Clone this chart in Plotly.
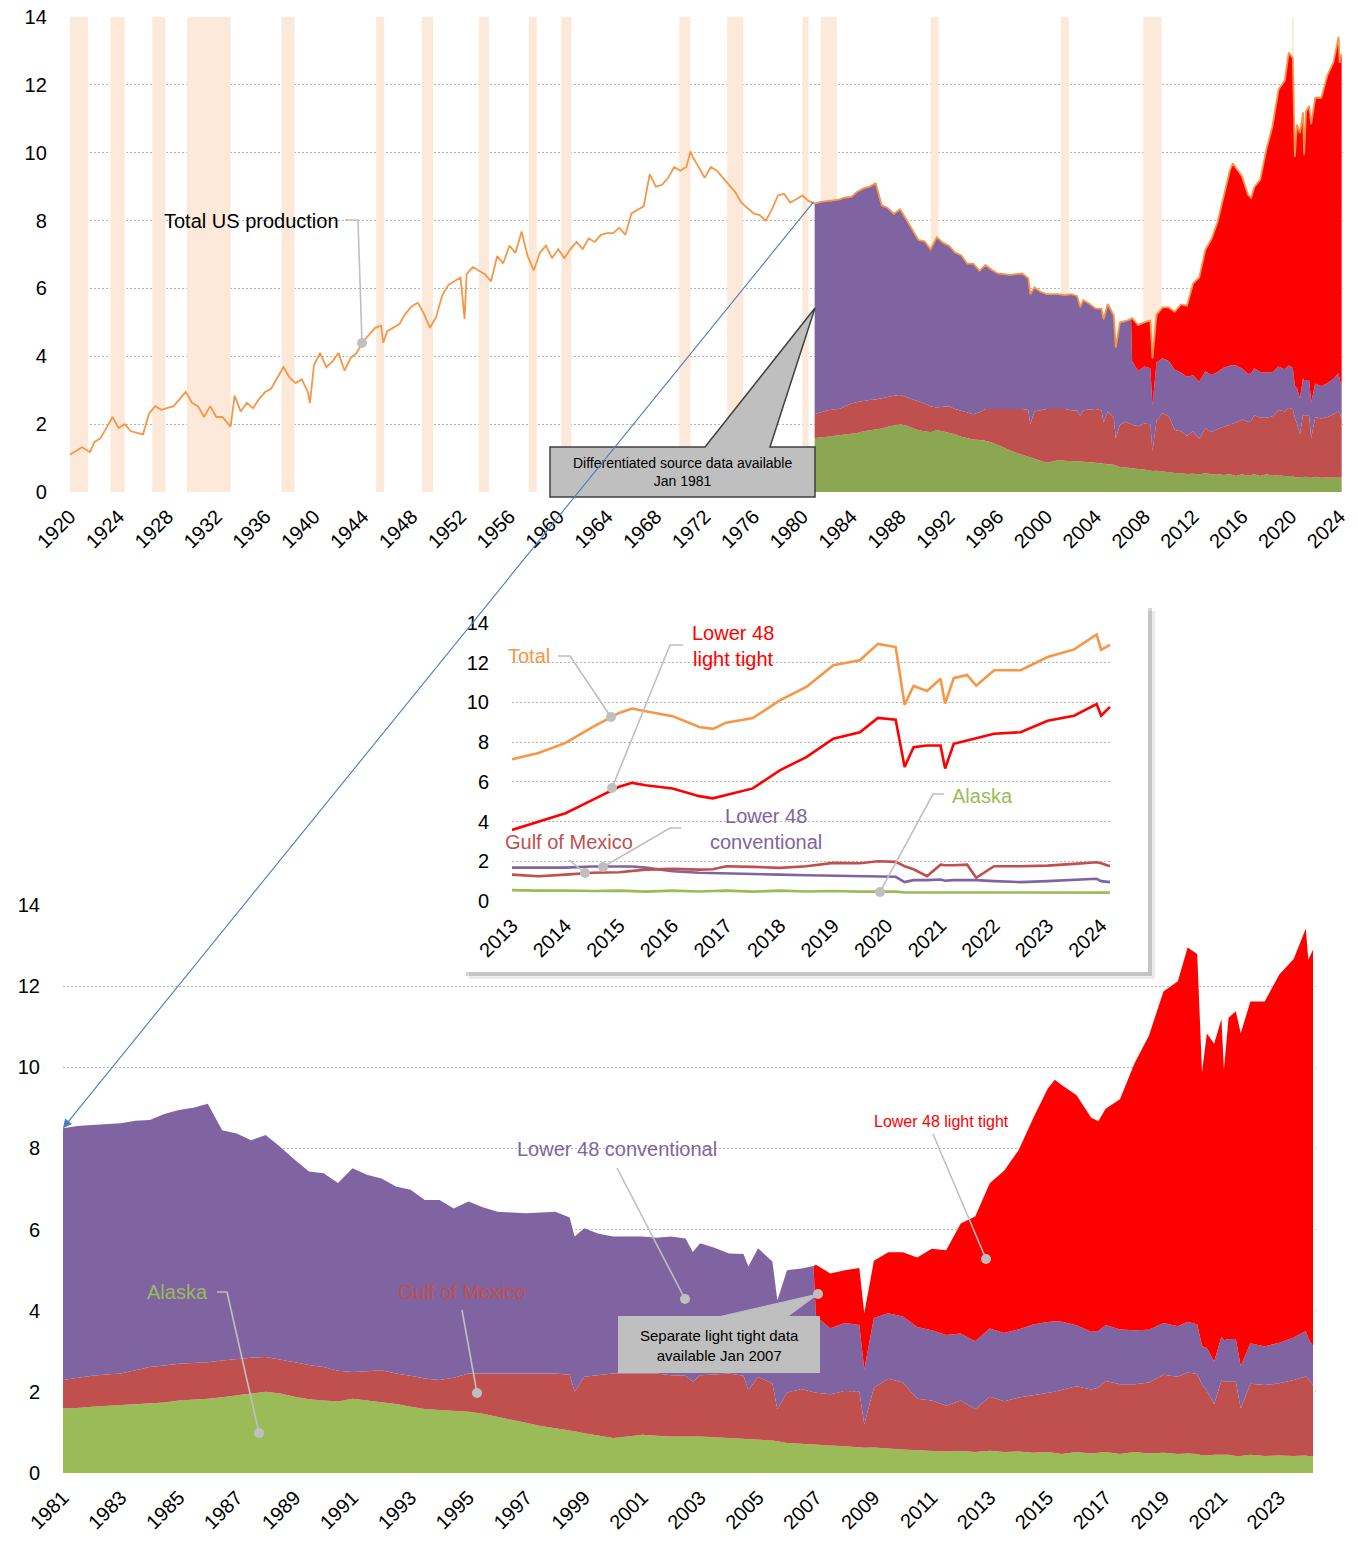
import pandas as pd
import plotly.graph_objects as go

W, H = 1358, 1541
FONT = "Liberation Sans, Arial, sans-serif"

ORANGE = "#F79646"
GREEN_TOP = "#8BA752"
GREEN = "#9BBB59"
GULF_C = "#C0504D"
PURPLE = "#8064A2"
RED = "#FF0000"
GREY = "#BFBFBF"
GRID = "#B5B5B5"
SHADE = "#FDE9D9"

# total US crude production 1920-1980, million b/d, read every half year (Jan, Jul)
hist_total = [
    1.10, 1.21, 1.32, 1.21, 1.47, 1.58, 1.89, 2.21, 1.89, 2.00,
    1.79, 1.74, 1.70, 2.32, 2.53, 2.42, 2.47, 2.53, 2.74, 2.95,
    2.63, 2.53, 2.21, 2.53, 2.21, 2.21, 2.00, 2.84, 2.37, 2.63,
    2.47, 2.74, 2.95, 3.05, 3.37, 3.68, 3.37, 3.21, 3.32, 2.95,
    3.74, 4.10, 3.68, 3.84, 4.10, 3.58, 3.95, 4.10, 4.42, 4.63,
    4.84, 4.90, 4.74, 4.84, 4.95, 5.26, 5.47, 5.58, 5.26, 4.84,
    5.16, 5.79, 6.10, 6.21, 6.32, 6.42, 6.63, 6.53, 6.42, 6.21,
    6.95, 6.74, 7.26, 7.05, 7.68, 6.95, 6.53, 7.05, 7.26, 6.89,
    7.16, 6.89, 7.16, 7.37, 7.16, 7.47, 7.37, 7.58, 7.63, 7.63,
    7.79, 7.58, 8.21, 8.32, 8.42, 9.37, 9.00, 9.05, 9.26, 9.58,
    9.47, 9.58, 9.89, 9.58, 9.26, 9.58, 9.47, 9.26, 9.05, 8.84,
    8.53, 8.37, 8.21, 8.16, 8.00, 8.32, 8.74, 8.79, 8.53, 8.63,
    8.74, 8.58,
]
# single-month spikes visible on the line
spike_dates = ["1921-09-01", "1933-03-01", "1939-09-01", "1945-09-01", "1952-05-01", "1970-11-01"]
spike_total = [1.18, 1.92, 2.62, 4.40, 5.10, 10.04]

# recession periods (shaded)
recession_start = ["1920-01", "1923-05", "1926-10", "1929-08", "1937-05", "1945-02", "1948-11",
                   "1953-07", "1957-08", "1960-04", "1969-12", "1973-11", "1980-01", "1981-07",
                   "1990-07", "2001-03", "2007-12", "2020-02"]
recession_end = ["1921-07", "1924-07", "1927-11", "1933-03", "1938-06", "1945-10", "1949-10",
                 "1954-05", "1958-04", "1961-02", "1970-11", "1975-03", "1980-07", "1982-11",
                 "1991-03", "2001-11", "2009-06", "2020-04"]

# differentiated sources from 1981
modern_dates = [
    "1981-01", "1981-07", "1982-01", "1982-07", "1983-01", "1983-07", "1984-01", "1984-07", "1985-01", "1985-07",
    "1986-01", "1986-07", "1987-01", "1987-07", "1988-01", "1988-07", "1989-01", "1989-07", "1990-01", "1990-07",
    "1991-01", "1991-07", "1992-01", "1992-07", "1993-01", "1993-07", "1994-01", "1994-07", "1995-01", "1995-07",
    "1996-01", "1996-07", "1997-01", "1997-07", "1998-01", "1998-07", "1998-09", "1999-01", "1999-07", "2000-01",
    "2000-07", "2001-01", "2001-07", "2002-01", "2002-07", "2002-10", "2003-01", "2003-07", "2004-01", "2004-07",
    "2004-09", "2005-01", "2005-07", "2005-09", "2006-01", "2006-07", "2006-12", "2007-01", "2007-07", "2008-01",
    "2008-07", "2008-09", "2009-01", "2009-07", "2010-01", "2010-07", "2011-01", "2011-07", "2012-01", "2012-07",
    "2013-01", "2013-07", "2014-01", "2014-07", "2015-01", "2015-04", "2015-07", "2016-01", "2016-07", "2016-10",
    "2017-01", "2017-07", "2018-01", "2018-07", "2019-01", "2019-07", "2019-11", "2020-03", "2020-05", "2020-07",
    "2020-10", "2021-01", "2021-02", "2021-04", "2021-07", "2021-09", "2022-01", "2022-07", "2023-01", "2023-07",
    "2023-12", "2024-01", "2024-03",
]
alaska = [
    1.59, 1.60, 1.63, 1.65, 1.67, 1.69, 1.71, 1.74, 1.79, 1.81,
    1.83, 1.87, 1.92, 1.96, 2.00, 1.96, 1.88, 1.82, 1.79, 1.76,
    1.83, 1.79, 1.75, 1.70, 1.63, 1.58, 1.55, 1.53, 1.51, 1.46,
    1.38, 1.30, 1.22, 1.16, 1.10, 1.05, 1.03, 0.98, 0.92, 0.86,
    0.90, 0.94, 0.92, 0.90, 0.90, 0.90, 0.90, 0.88, 0.86, 0.85,
    0.84, 0.82, 0.80, 0.78, 0.74, 0.72, 0.71, 0.70, 0.68, 0.66,
    0.64, 0.62, 0.63, 0.60, 0.58, 0.56, 0.55, 0.53, 0.54, 0.52,
    0.55, 0.52, 0.53, 0.50, 0.52, 0.50, 0.47, 0.52, 0.48, 0.50,
    0.52, 0.47, 0.52, 0.48, 0.50, 0.47, 0.48, 0.47, 0.43, 0.43,
    0.45, 0.45, 0.45, 0.45, 0.42, 0.42, 0.45, 0.42, 0.43, 0.42,
    0.43, 0.42, 0.42,
]
gulf = [
    0.70, 0.75, 0.77, 0.78, 0.78, 0.84, 0.90, 0.91, 0.90, 0.90,
    0.90, 0.90, 0.89, 0.88, 0.86, 0.84, 0.85, 0.84, 0.82, 0.76,
    0.66, 0.72, 0.78, 0.75, 0.77, 0.75, 0.74, 0.82, 0.94, 0.99,
    1.07, 1.15, 1.23, 1.29, 1.35, 1.37, 0.97, 1.39, 1.49, 1.59,
    1.55, 1.51, 1.53, 1.51, 1.50, 1.35, 1.51, 1.55, 1.59, 1.55,
    1.20, 1.55, 1.40, 0.80, 1.24, 1.35, 1.27, 1.28, 1.26, 1.36,
    1.36, 0.58, 1.47, 1.72, 1.65, 1.27, 1.24, 1.13, 1.25, 1.05,
    1.33, 1.25, 1.33, 1.42, 1.45, 1.50, 1.58, 1.62, 1.58, 1.60,
    1.75, 1.72, 1.67, 1.75, 1.92, 1.90, 2.00, 1.97, 1.75, 1.60,
    1.25, 1.83, 1.80, 1.80, 1.83, 1.17, 1.75, 1.75, 1.78, 1.87,
    1.95, 1.90, 1.75,
]
conv = [
    6.21, 6.20, 6.18, 6.17, 6.17, 6.15, 6.09, 6.20, 6.26, 6.29,
    6.37, 5.68, 5.56, 5.36, 5.47, 5.24, 4.99, 4.77, 4.78, 4.63,
    5.02, 4.84, 4.73, 4.61, 4.58, 4.40, 4.44, 4.17, 4.24, 4.10,
    3.99, 3.97, 3.95, 3.97, 3.99, 3.88, 3.83, 3.66, 3.49, 3.38,
    3.38, 3.38, 3.35, 3.42, 3.38, 3.20, 3.25, 3.12, 2.96, 3.00,
    3.05, 3.17, 3.01, 2.68, 3.02, 2.97, 3.12, 1.88, 1.63, 1.68,
    1.65, 1.35, 1.72, 1.62, 1.63, 1.77, 1.73, 1.74, 1.65, 1.68,
    1.68, 1.68, 1.68, 1.74, 1.75, 1.74, 1.68, 1.50, 1.42, 1.40,
    1.38, 1.35, 1.33, 1.30, 1.28, 1.25, 1.25, 1.22, 0.95, 1.05,
    1.05, 1.08, 1.02, 1.05, 1.05, 1.05, 1.00, 0.95, 1.00, 1.05,
    1.12, 1.00, 0.95,
]
# light tight oil is only separated from 2007
tight_dates = modern_dates[modern_dates.index("2006-12"):]
tight = [
    0.00, 1.27, 1.35, 1.30, 1.40, 1.39, 1.41, 1.50, 1.58, 1.71,
    2.01, 2.09, 2.71, 3.07, 3.58, 4.00, 4.42, 5.08, 5.75, 5.95,
    5.83, 5.67, 5.28, 5.17, 5.33, 5.67, 6.58, 7.25, 8.17, 8.50,
    9.22, 9.13, 6.75, 7.75, 7.83, 7.83, 6.67, 7.92, 8.08, 8.20,
    8.42, 8.50, 9.08, 9.33, 9.92, 9.33, 9.78,
]

mod = pd.DataFrame({"alaska": alaska, "gulf": gulf, "conv": conv},
                   index=pd.to_datetime(modern_dates))
mod["tight"] = pd.Series(tight, index=pd.to_datetime(tight_dates))
mod["tight"] = mod["tight"].fillna(0)
mod["total"] = mod[["alaska", "gulf", "conv", "tight"]].sum(axis=1)

hist = pd.Series(hist_total, index=pd.date_range("1920-01-01", periods=len(hist_total), freq="6MS"))
spikes = pd.Series(spike_total, index=pd.to_datetime(spike_dates))
total_all = pd.concat([hist, spikes, mod["total"]]).sort_index()

inset = mod[mod.index >= "2013-01-01"]


def fx(px):
    return px / W


def fy(py):
    return 1 - py / H


fig = go.Figure()

# --- top chart (x, y) ---
stack = [("Alaska", "alaska"), ("Gulf of Mexico", "gulf"),
         ("Lower 48 conventional", "conv"), ("Lower 48 light tight", "tight")]
top_colors = [GREEN_TOP, GULF_C, PURPLE, RED]
for (name, col), color in zip(stack, top_colors):
    fig.add_trace(go.Scatter(x=mod.index, y=mod[col], name=name, stackgroup="top",
                             mode="lines", line=dict(width=0, color=color), fillcolor=color,
                             xaxis="x", yaxis="y", hoverinfo="skip"))
fig.add_trace(go.Scatter(x=total_all.index, y=total_all.values, name="Total US production",
                         mode="lines", line=dict(color=ORANGE, width=1.8),
                         xaxis="x", yaxis="y"))

# --- bottom chart (x2, y2) ---
bottom_colors = [GREEN, GULF_C, PURPLE, RED]
for (name, col), color in zip(stack, bottom_colors):
    fig.add_trace(go.Scatter(x=mod.index, y=mod[col], name=name, stackgroup="bottom",
                             mode="lines", line=dict(width=0, color=color), fillcolor=color,
                             xaxis="x2", yaxis="y2", hoverinfo="skip"))

# --- white card behind the inset (x3, y3) ---
fig.add_trace(go.Scatter(x=[None], y=[None], mode="markers", xaxis="x3", yaxis="y3",
                         hoverinfo="skip", showlegend=False))

# --- inset (x4, y4) ---
inset_lines = [("Alaska", "alaska", GREEN), ("Lower 48 conventional", "conv", PURPLE),
               ("Gulf of Mexico", "gulf", GULF_C), ("Lower 48 light tight", "tight", RED),
               ("Total", "total", ORANGE)]
for name, col, color in inset_lines:
    fig.add_trace(go.Scatter(x=inset.index, y=inset[col], name=name, mode="lines",
                             line=dict(color=color, width=2.6), xaxis="x4", yaxis="y4"))

tickfont = dict(family=FONT, size=20, color="black")
yaxis_common = dict(range=[0, 14], tick0=0, dtick=2, showgrid=True, gridcolor=GRID,
                    griddash="2px,2px", gridwidth=1.4, zeroline=False, showline=False,
                    ticks="outside", ticklen=18, tickcolor="rgba(0,0,0,0)",
                    tickfont=tickfont, fixedrange=True, automargin=False,
                    ticklabeloverflow="allow")
xaxis_common = dict(type="date", tickformat="%Y", tickangle=-45, showgrid=False,
                    zeroline=False, showline=False, ticks="outside", ticklen=4,
                    tickcolor="rgba(0,0,0,0)", tickfont=tickfont, fixedrange=True,
                    automargin=False, ticklabeloverflow="allow")

# recession shading, drawn over the grid but under the data
shapes = []
for s, e in zip(recession_start, recession_end):
    shapes.append(dict(type="rect", xref="x", yref="y", x0=s + "-01", x1=e + "-01", y0=0, y1=14,
                       fillcolor=SHADE, line=dict(width=0), layer="between"))

# inset card shadow (two soft layers)
for d, alpha in [(7, 0.08), (4, 0.16)]:
    shapes.append(dict(type="rect", xref="paper", yref="paper", x0=fx(462 + d), x1=fx(1148 + d),
                       y0=fy(972 + d), y1=fy(604 + d), fillcolor=f"rgba(0,0,0,{alpha})",
                       line=dict(width=0), layer="below"))


def path(points):
    return "M " + " L ".join(f"{fx(x):.5f},{fy(y):.5f}" for x, y in points)


# callout "Differentiated source data"
shapes.append(dict(type="path", xref="paper", yref="paper",
                   path=path([(550, 497), (550, 447), (705, 447), (815, 308), (770, 447),
                              (815, 447), (815, 497)]) + " Z",
                   fillcolor=GREY, line=dict(color="#404040", width=1.5), layer="above"))
# callout "Separate light tight data"
shapes.append(dict(type="path", xref="paper", yref="paper",
                   path=path([(718, 1317), (818, 1294), (787, 1317)]) + " Z",
                   fillcolor=GREY, line=dict(color=GREY, width=1), layer="above"))
shapes.append(dict(type="rect", xref="paper", yref="paper", x0=fx(618), x1=fx(820),
                   y0=fy(1373), y1=fy(1316), fillcolor=GREY, line=dict(width=0), layer="above"))

leaders = [
    [(345, 220), (358, 220), (362, 343)],
    [(217, 1292), (227, 1292), (259, 1433)],
    [(462, 1310), (477, 1393)],
    [(617, 1168), (685, 1299)],
    [(933, 1134), (986, 1259)],
    [(558, 656), (570, 656), (611, 717)],
    [(683, 645), (670, 645), (612, 788)],
    [(569, 860), (585, 873)],
    [(681, 828), (670, 828), (603, 867)],
    [(944, 794), (933, 794), (880, 892)],
]
for pts in leaders:
    shapes.append(dict(type="path", xref="paper", yref="paper", path=path(pts),
                       line=dict(color=GREY, width=1.6), layer="above"))
    cx, cy = pts[-1]
    r = 5
    shapes.append(dict(type="circle", xref="paper", yref="paper", x0=fx(cx - r), x1=fx(cx + r),
                       y0=fy(cy + r), y1=fy(cy - r), fillcolor=GREY, line=dict(width=0),
                       layer="above"))
shapes.append(dict(type="circle", xref="paper", yref="paper", x0=fx(813), x1=fx(823),
                   y0=fy(1299), y1=fy(1289), fillcolor=GREY, line=dict(width=0), layer="above"))


def label(text, cx, cy, color, size=20):
    return dict(text=text, x=fx(cx), y=fy(cy), xref="paper", yref="paper", showarrow=False,
                xanchor="center", yanchor="middle", font=dict(family=FONT, size=size, color=color))


annotations = [
    label("Total US production", 251, 221, "black"),
    label("Differentiated source data available<br>Jan 1981", 682, 472, "black", 14),
    label("Separate light tight data<br>available Jan 2007", 719, 1345, "black", 15),
    label("Alaska", 177, 1292, GREEN),
    label("Gulf of Mexico", 462, 1292, GULF_C),
    label("Lower 48 conventional", 617, 1149, PURPLE),
    label("Lower 48 light tight", 941, 1121, RED, 16),
    label("Total", 529, 656, ORANGE),
    label("Lower 48<br>light tight", 733, 646, RED),
    label("Gulf of Mexico", 569, 842, GULF_C),
    label("Lower 48<br>conventional", 766, 829, PURPLE),
    label("Alaska", 982, 796, GREEN),
    # arrow linking Jan 1981 in both charts
    dict(x="1981-01-01", y=8.5, xref="x2", yref="y2", ax=752, ay=-928, axref="pixel",
         ayref="pixel", text="", showarrow=True, arrowhead=2, arrowsize=1.6, arrowwidth=1.1,
         arrowcolor="#4A7EBB", standoff=0),
]

fig.update_layout(
    width=W, height=H,
    margin=dict(l=0, r=0, t=0, b=0, autoexpand=False),
    paper_bgcolor="white", plot_bgcolor="white",
    showlegend=False,
    font=dict(family=FONT, size=20, color="black"),
    xaxis=dict(xaxis_common, domain=[fx(69.8), fx(1342.7)], range=["1920-01-01", "2024-04-01"],
               tick0="1920-01-01", dtick="M48", anchor="y"),
    yaxis=dict(yaxis_common, domain=[fy(492), fy(17)], anchor="x"),
    xaxis2=dict(xaxis_common, domain=[fx(63), fx(1315.5)], range=["1981-01-01", "2024-04-01"],
                tick0="1981-01-01", dtick="M24", anchor="y2"),
    yaxis2=dict(yaxis_common, domain=[fy(1473), fy(905)], anchor="x2"),
    xaxis3=dict(domain=[fx(462), fx(1148)], range=[0, 1], visible=False, anchor="y3",
                fixedrange=True),
    yaxis3=dict(domain=[fy(972), fy(604)], range=[0, 1], visible=False, anchor="x3",
                fixedrange=True),
    xaxis4=dict(xaxis_common, domain=[fx(512), fx(1112)], range=["2013-01-01", "2024-03-15"],
                tick0="2013-01-01", dtick="M12", anchor="y4"),
    yaxis4=dict(yaxis_common, domain=[fy(901), fy(623)], anchor="x4"),
    shapes=shapes,
    annotations=annotations,
)

# the figure fills the window exactly, so drop the page's default body margin
fig.write_html("out.html", config={"displayModeBar": False},
               post_script="document.body.style.margin = '0';")
